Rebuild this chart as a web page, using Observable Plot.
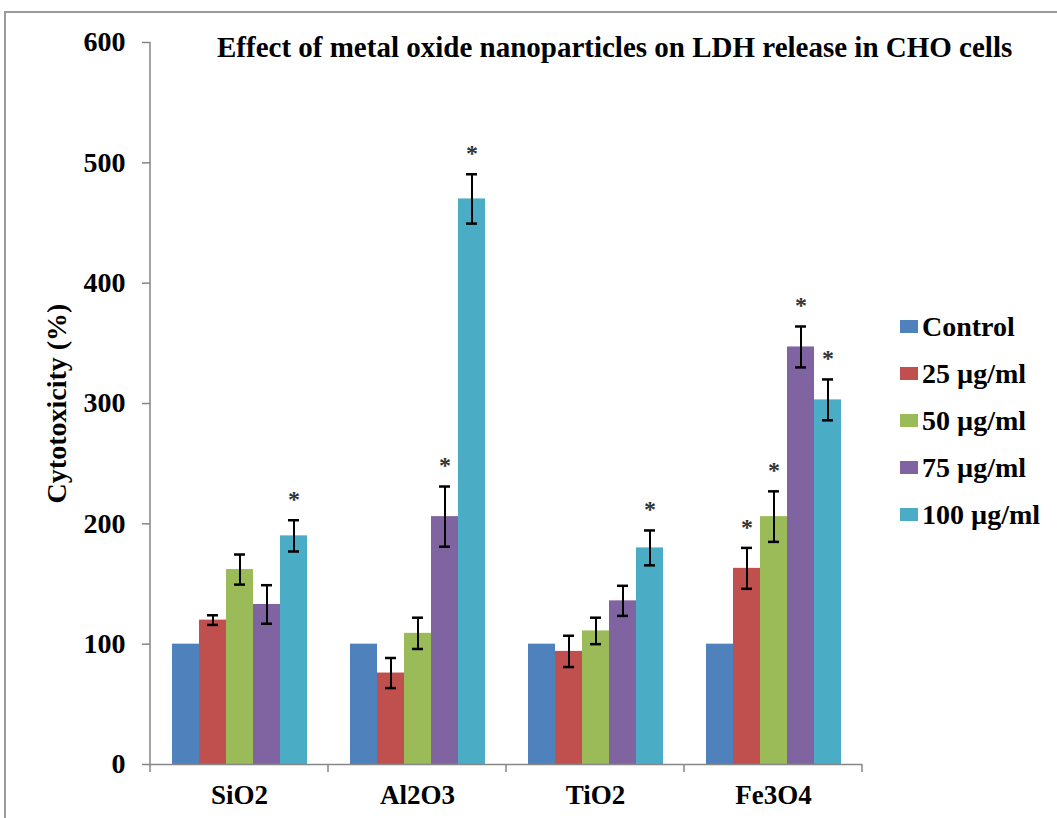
<!DOCTYPE html>
<html>
<head>
<meta charset="utf-8">
<script src="https://cdn.jsdelivr.net/npm/d3@7"></script>
<script src="https://cdn.jsdelivr.net/npm/@observablehq/plot@0.6"></script>
<style>
  body { margin: 0; background: #fff; }
  #wrap { position: relative; width: 1057px; height: 818px; overflow: hidden;
          font-family: "Liberation Serif", "Times New Roman", serif; font-weight: bold; color: #000; }
  #border { position: absolute; left: 4px; top: 11px; width: 2000px; height: 2000px;
            border-left: 2px solid #9a9a9a; border-top: 2px solid #9a9a9a; }
  #chart { position: absolute; left: 0; top: 0; }
  #title { position: absolute; left: 217px; top: 33px; font-size: 29px; line-height: 29px; white-space: nowrap; }
  #legend { position: absolute; left: 900px; top: 303px; }
  .item { display: flex; align-items: center; height: 47px; font-size: 28px; line-height: 28px; white-space: nowrap; }
  .sw { width: 18px; height: 13px; margin-right: 4px; }
</style>
</head>
<body>
<div id="wrap">
  <div id="border"></div>
  <div id="chart"></div>
  <div id="title"></div>
  <div id="legend"></div>
</div>
<script>
const titleText = "Effect of metal oxide nanoparticles on LDH release in CHO cells";
const yLabel = "Cytotoxicity (%)";
const categories = ["SiO2", "Al2O3", "TiO2", "Fe3O4"];
const series = ["Control", "25 µg/ml", "50 µg/ml", "75 µg/ml", "100 µg/ml"];
const colors = ["#4F81BD", "#C0504D", "#9BBB59", "#8064A2", "#4BACC6"];
const yTicks = [0, 100, 200, 300, 400, 500, 600];

// values per category, in series order
const SiO2  = [100, 120, 162, 133, 190];
const Al2O3 = [100, 76, 109, 206, 470];
const TiO2  = [100, 94, 111, 136, 180];
const Fe3O4 = [100, 163, 206, 347, 303];

// error bar half-lengths
const SiO2Err  = [0, 4, 12.5, 16, 13];
const Al2O3Err = [0, 12.5, 13, 25, 20.5];
const TiO2Err  = [0, 13, 11, 12.5, 14.5];
const Fe3O4Err = [0, 17, 21, 17, 17];

// significance asterisks
const SiO2Sig  = [0, 0, 0, 0, 1];
const Al2O3Sig = [0, 0, 0, 1, 1];
const TiO2Sig  = [0, 0, 0, 0, 1];
const Fe3O4Sig = [0, 1, 1, 1, 1];

const values = [SiO2, Al2O3, TiO2, Fe3O4];
const errors = [SiO2Err, Al2O3Err, TiO2Err, Fe3O4Err];
const sigs = [SiO2Sig, Al2O3Sig, TiO2Sig, Fe3O4Sig];

const rows = [];
categories.forEach((c, i) => series.forEach((s, j) => rows.push({
  cat: c, series: s, value: values[i][j], err: errors[i][j], sig: sigs[i][j]
})));
const errRows = rows.filter(d => d.err > 0);
const sigRows = rows.filter(d => d.sig);

const axisGray = "#868686";

const plot = Plot.plot({
  width: 1057,
  height: 818,
  marginLeft: 150,
  marginRight: 195,
  marginTop: 42,
  marginBottom: 54,
  style: { fontFamily: "'Liberation Serif', 'Times New Roman', serif", fontWeight: "bold", fontSize: "27px", color: "#000", background: "transparent", overflow: "visible" },
  fx: { domain: categories, padding: 0, label: null, axis: "bottom", tickSize: 0, tickPadding: 20, fontSize: 27 },
  x: { domain: series, paddingInner: 0, paddingOuter: 0.77, axis: null },
  y: { domain: [0, 600] },
  color: { domain: series, range: colors },
  marks: [
    Plot.axisY({ ticks: yTicks, tickSize: 8, tickPadding: 17, stroke: axisGray, fill: "#000", strokeWidth: 1.5,
                 label: yLabel, labelAnchor: "center", labelOffset: 104, labelArrow: false, fontSize: 28 }),
    Plot.barY(rows, { fx: "cat", x: "series", y: "value", fill: "series" }),
    Plot.ruleY([0], { stroke: axisGray, strokeWidth: 1.5 }),
    Plot.ruleX(errRows, { fx: "cat", x: "series", y1: d => d.value - d.err, y2: d => d.value + d.err, stroke: "#000", strokeWidth: 2 }),
    Plot.tickY(errRows, { fx: "cat", x: "series", y: d => d.value + d.err, stroke: "#000", strokeWidth: 2.5, inset: 8 }),
    Plot.tickY(errRows, { fx: "cat", x: "series", y: d => d.value - d.err, stroke: "#000", strokeWidth: 2.5, inset: 8 }),
    Plot.text(sigRows, { fx: "cat", x: "series", y: d => d.value + d.err, text: () => "*", dy: -21, fontSize: 24, lineAnchor: "middle", fill: "#333" })
  ]
});

// axis line and category boundary ticks, positioned from the plot's own scales
const fxs = plot.scale("fx"), ys = plot.scale("y");
const svg = d3.select(plot.tagName.toLowerCase() === "svg" ? plot : plot.querySelector("svg"));
const g = svg.append("g").attr("stroke", axisGray).attr("stroke-width", 1.5);
const left = fxs.apply(categories[0]);
g.append("line").attr("x1", left).attr("x2", left).attr("y1", ys.apply(600)).attr("y2", ys.apply(0));
const edges = categories.map(c => fxs.apply(c)).concat([fxs.apply(categories[categories.length - 1]) + fxs.bandwidth]);
edges.forEach(x => g.append("line").attr("x1", x).attr("x2", x).attr("y1", ys.apply(0)).attr("y2", ys.apply(0) + 8));

document.getElementById("chart").appendChild(plot);
document.getElementById("title").textContent = titleText;

const legend = d3.select("#legend");
series.forEach((s, i) => {
  const it = legend.append("div").attr("class", "item");
  it.append("div").attr("class", "sw").style("background", colors[i]);
  it.append("span").text(s);
});
</script>
</body>
</html>
